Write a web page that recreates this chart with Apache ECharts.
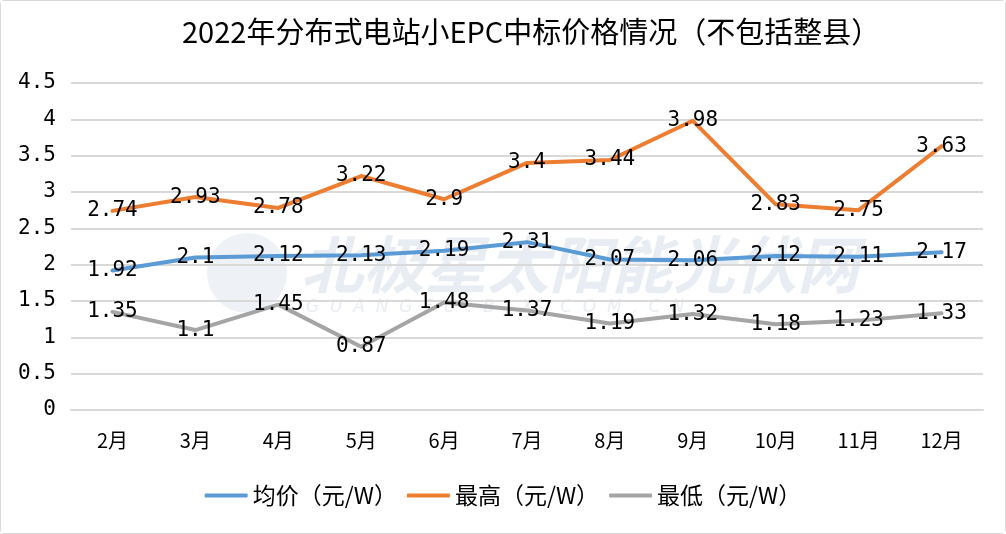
<!DOCTYPE html>
<html><head><meta charset="utf-8">
<script src="https://cdn.jsdelivr.net/npm/echarts@6/dist/echarts.min.js"></script>
<style>
html,body{margin:0;padding:0;background:#fff;}
#c{width:1006px;height:534px;box-sizing:border-box;border:1px solid #d9d9d9;border-radius:4px;}
</style></head>
<body><div id="c"></div>
<script>
const titleText = '2022年分布式电站小EPC中标价格情况（不包括整县）';
const categories = ['2月','3月','4月','5月','6月','7月','8月','9月','10月','11月','12月'];
const avgName = '均价（元/W）';
const maxName = '最高（元/W）';
const minName = '最低（元/W）';
const avgValues = [1.92, 2.1, 2.12, 2.13, 2.19, 2.31, 2.07, 2.06, 2.12, 2.11, 2.17];
const maxValues = [2.74, 2.93, 2.78, 3.22, 2.9, 3.4, 3.44, 3.98, 2.83, 2.75, 3.63];
const minValues = [1.35, 1.1, 1.45, 0.87, 1.48, 1.37, 1.19, 1.32, 1.18, 1.23, 1.33];

const monoFont = '"DejaVu Sans Mono", "Liberation Mono", monospace';
const cjkFont = '"Noto Sans CJK SC", "Noto Sans", sans-serif';

const chart = echarts.init(document.getElementById('c'), null, {renderer: 'canvas'});
function mkSeries(name, data, color) {
  return {
    name: name, type: 'line', data: data, symbol: 'circle', symbolSize: 0, showSymbol: true, smooth: false,
    lineStyle: {width: 4, color: color, cap: 'round', join: 'round'},
    itemStyle: {color: color},
    label: {show: true, position: 'inside', fontFamily: monoFont, fontSize: 21, color: '#000'},
    z: 3
  };
}
chart.setOption({
  animation: false,
  backgroundColor: '#fff',
  title: {text: titleText, left: 176, top: 11,
    textStyle: {fontFamily: cjkFont, fontSize: 29, fontWeight: 'normal', color: '#000'}},
  legend: {bottom: 21, left: 'center', itemWidth: 43, itemHeight: 4, itemGap: 10,
    icon: 'roundRect',
    textStyle: {fontFamily: cjkFont, fontSize: 23, color: '#000'},
    data: [avgName, maxName, minName]},
  grid: {left: 70, right: 22, top: 82, bottom: 123, containLabel: false},
  xAxis: {type: 'category', data: categories, boundaryGap: true,
    axisLine: {show: true, lineStyle: {color: '#d9d9d9', width: 2}}, axisTick: {show: false},
    axisLabel: {fontFamily: cjkFont, fontSize: 20, color: '#000', margin: 20}},
  yAxis: {type: 'value', min: 0, max: 4.5, interval: 0.5,
    axisLine: {show: false}, axisTick: {show: false},
    splitLine: {lineStyle: {color: '#d9d9d9', width: 2}},
    axisLabel: {fontFamily: monoFont, fontSize: 21, color: '#000', margin: 15}},
  graphic: [
    {type: 'text', left: 300, top: 232, z: 0, silent: true,
      style: {text: '北极星太阳能光伏网', font: 'italic bold 62px "Noto Sans CJK SC"', fill: 'rgba(205,215,230,0.45)'}},
    {type: 'text', left: 305, top: 298, z: 0, silent: true,
      style: {text: 'G  U  A  N  G  F  U  .  B  J  X  .  C  O  M  .  C  N', font: 'italic 17px "DejaVu Sans"', fill: 'rgba(205,215,230,0.45)'}},
    {type: 'circle', shape: {cx: 246, cy: 272, r: 40}, z: 0, silent: true,
      style: {fill: 'rgba(205,215,230,0.35)'}}
  ],
  series: [
    mkSeries(avgName, avgValues, '#5B9BD5'),
    mkSeries(maxName, maxValues, '#ED7D31'),
    mkSeries(minName, minValues, '#A5A5A5')
  ]
});
</script></body></html>
